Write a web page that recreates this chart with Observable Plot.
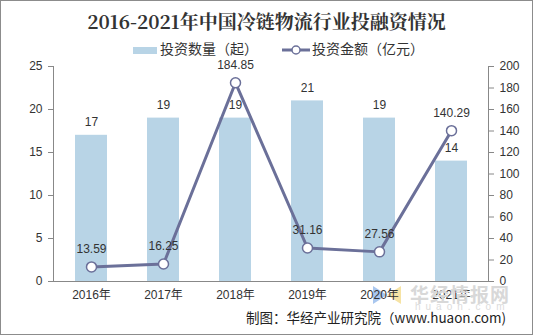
<!DOCTYPE html>
<html><head><meta charset="utf-8">
<script src="https://cdn.jsdelivr.net/npm/d3@7"></script>
<script src="https://cdn.jsdelivr.net/npm/@observablehq/plot@0.6"></script>
<style>
html,body{margin:0;padding:0;background:#fff;}
#wrap{position:relative;width:533px;height:335px;overflow:hidden;font-family:"Liberation Sans","Noto Sans CJK SC",sans-serif;}
#frame{position:absolute;left:0;top:0;width:531px;height:333px;border:1px solid #8c8c8c;pointer-events:none;}
#title{position:absolute;left:0;width:533px;top:7px;text-align:center;font-family:"Noto Serif CJK SC","DejaVu Serif","Noto Sans CJK SC",serif;font-weight:bold;font-size:19px;color:#333;}
.leg{position:absolute;top:38px;font-size:14px;color:#333;font-family:"Noto Sans CJK SC",sans-serif;}
#src{position:absolute;right:27px;top:307px;font-size:13.5px;color:#222;font-family:"Noto Sans CJK SC",sans-serif;}
#wm{position:absolute;left:410px;top:280px;font-size:19px;font-weight:bold;color:#d8d8d8;font-family:"Noto Sans CJK SC",sans-serif;letter-spacing:1px;}
#wm2{position:absolute;left:415px;top:301px;font-size:10px;color:#dcdcdc;letter-spacing:5px;}
#logo1{position:absolute;left:373px;top:286px;width:0;height:0;border-top:9px solid transparent;border-bottom:9px solid transparent;border-left:14px solid #a9c7ef;}
#logo2{position:absolute;left:387px;top:286px;width:0;height:0;border-top:9px solid transparent;border-bottom:9px solid transparent;border-right:14px solid #f6e3a4;}
#chart{position:absolute;left:0;top:0;}
</style></head>
<body>
<div id="wrap">
<div id="logo1"></div><div id="logo2"></div>
<div id="chart"></div>
<div id="wm">华经情报网</div>
<div id="wm2">huaon.com</div>
<div id="title">2016-2021年中国冷链物流行业投融资情况</div>
<div class="leg" style="left:133px;"><span style="display:inline-block;width:24px;height:7px;background:#B8D4E6;vertical-align:middle;margin-right:3px;"></span>投资数量（起）</div>
<div class="leg" style="left:282px;"><svg width="28" height="12" style="vertical-align:middle;margin-right:2px;"><line x1="0" y1="6" x2="28" y2="6" stroke="#6B7099" stroke-width="3"/><circle cx="14" cy="6" r="4" fill="#fff" stroke="#6B7099" stroke-width="1.5"/></svg>投资金额（亿元）</div>
<div id="src">制图：华经产业研究院（www.huaon.com)</div>
<div id="frame"></div>
</div>
<script>
const years = ["2016年","2017年","2018年","2019年","2020年","2021年"];
const counts = [17, 19, 19, 21, 19, 14];
const amounts = [13.59, 16.25, 184.85, 31.16, 27.56, 140.29];
const leftTicks = [0, 5, 10, 15, 20, 25];
const rightTicks = [0, 20, 40, 60, 80, 100, 120, 140, 160, 180, 200];
const ratio = 200 / 25;

const data = years.map((y, i) => ({year: y, count: counts[i], amount: amounts[i], scaled: amounts[i] / ratio}));

const chart = Plot.plot({
  width: 533,
  height: 335,
  marginTop: 66,
  marginBottom: 54,
  marginLeft: 53,
  marginRight: 45,
  style: {fontFamily: '"Liberation Sans","Noto Sans CJK SC",sans-serif', fontSize: "12px", color: "#333", background: "transparent"},
  x: {domain: years, paddingInner: 0.56, paddingOuter: 0.28, label: null},
  y: {domain: [0, 25], label: null},
  marks: [
    Plot.barY(data, {x: "year", y: "count", fill: "#B8D4E6"}),
    Plot.text(data, {x: "year", y: "count", text: d => String(d.count), dy: -13, fontSize: 12, fill: "#333"}),
    Plot.line(data, {x: "year", y: "scaled", stroke: "#6B7099", strokeWidth: 3}),
    Plot.dot(data, {x: "year", y: "scaled", r: 5, fill: "#fff", stroke: "#6B7099", strokeWidth: 1.5}),
    Plot.text(data, {x: "year", y: "scaled", text: d => d.amount.toFixed(2), dy: -18, fontSize: 12, fill: "#333"}),
    Plot.axisY({ticks: leftTicks, anchor: "left", tickSize: 5, tickPadding: 6, fontSize: 12, label: null, stroke: "#888"}),
    Plot.axisY({ticks: rightTicks.map(t => t / ratio), anchor: "right", tickFormat: d => String(Math.round(d * ratio)), tickSize: 5, tickPadding: 6, fontSize: 12, label: null, stroke: "#888"}),
    Plot.axisX({tickSize: 0, tickPadding: 9, fontSize: 12, label: null}),
    Plot.ruleY([0], {stroke: "#888"}),
    Plot.frame({anchor: "left", stroke: "#888"}),
    Plot.frame({anchor: "right", stroke: "#888"})
  ]
});
document.getElementById("chart").appendChild(chart);
</script>
</body></html>
